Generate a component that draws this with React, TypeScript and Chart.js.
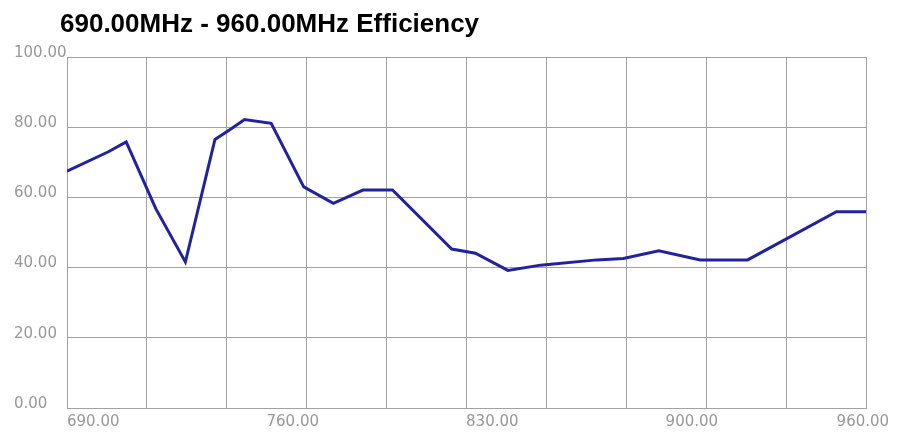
import React, { useEffect, useRef } from "react";
import { Chart, registerables } from "chart.js";

Chart.register(...registerables);

const titleText = "690.00MHz - 960.00MHz Efficiency";
const frequencies = [690, 704, 710, 720, 730, 740, 745, 750, 759, 770, 780, 790, 800, 820, 828, 839, 850, 869, 878, 890, 904, 920, 950, 960];
const efficiency = [67.5, 73.0, 75.8, 56.8, 41.6, 76.5, 79.3, 82.2, 81.1, 63.0, 58.3, 62.1, 62.1, 45.3, 44.1, 39.2, 40.7, 42.2, 42.6, 44.8, 42.2, 42.2, 55.9, 55.9];
const xTickLabels = [690, 760, 830, 900, 960];
const xGridValues = [690, 717, 744, 771, 798, 825, 852, 879, 906, 933, 960];
const yTickValues = [0, 20, 40, 60, 80, 100];

export default function App() {
  const canvasRef = useRef<HTMLCanvasElement | null>(null);

  useEffect(() => {
    const canvas = canvasRef.current;
    if (!canvas) return;
    const gridColor = "#a2a2a2";
    const labelColor = "#989898";
    const labelFont = { family: "'DejaVu Sans', sans-serif", size: 15 };

    const titleShift = {
      id: "titleShift",
      afterLayout(chart: any) {
        if (chart.titleBlock) {
          chart.titleBlock.left = 60;
        }
      },
    };

    const chart = new Chart(canvas, {
      type: "line",
      data: {
        datasets: [
          {
            label: "Efficiency",
            data: frequencies.map((f, i) => ({ x: f, y: efficiency[i] })),
            borderColor: "#22229e",
            backgroundColor: "#22229e",
            borderWidth: 3,
            pointRadius: 0,
            tension: 0,
            fill: false,
            xAxisID: "x",
            yAxisID: "y",
          },
        ],
      },
      options: {
        animation: false,
        responsive: true,
        maintainAspectRatio: false,
        layout: { padding: { left: 14, right: 39, top: 0, bottom: 0 } },
        plugins: {
          legend: { display: false },
          tooltip: { enabled: false },
          title: {
            display: true,
            text: titleText,
            align: "start",
            color: "#000000",
            font: { family: "'Liberation Sans', Arial, sans-serif", size: 26, weight: "bold", lineHeight: 1.2 },
            padding: { top: 9, bottom: 16.8 },
          },
        },
        scales: {
          x: {
            type: "linear",
            position: "bottom",
            min: 690,
            max: 960,
            afterBuildTicks: (scale: any) => {
              scale.ticks = xGridValues.map((v) => ({ value: v }));
            },
            afterFit: (scale: any) => {
              scale.height = 0;
            },
            ticks: { display: false },
            grid: { color: gridColor, lineWidth: 1, drawTicks: false },
            border: { color: gridColor, width: 1 },
          },
          x2: {
            type: "linear",
            position: "bottom",
            min: 680.8,
            max: 961.1,
            afterBuildTicks: (scale: any) => {
              scale.ticks = xTickLabels.map((v) => ({ value: v }));
            },
            afterFit: (scale: any) => {
              scale.height = 24;
            },
            ticks: {
              color: labelColor,
              font: labelFont,
              padding: 5,
              maxRotation: 0,
              autoSkip: false,
              callback: (v: any) => Number(v).toFixed(2),
            },
            grid: { display: false, drawTicks: false },
            border: { display: false },
          },
          y: {
            type: "linear",
            position: "left",
            min: 0,
            max: 100,
            afterBuildTicks: (scale: any) => {
              scale.ticks = yTickValues.map((v) => ({ value: v }));
            },
            afterFit: (scale: any) => {
              scale.width = 53;
            },
            ticks: {
              color: labelColor,
              font: labelFont,
              crossAlign: "far",
              labelOffset: -4,
              padding: 3,
              callback: (v: any) => Number(v).toFixed(2),
            },
            grid: { color: gridColor, lineWidth: 1, drawTicks: false },
            border: { color: gridColor, width: 1 },
          },
        },
      },
      plugins: [titleShift],
    });

    return () => {
      chart.destroy();
    };
  }, []);

  return (
    <div style={{ position: "fixed", left: 0, top: 0, width: 905, height: 432, background: "#ffffff" }}>
      <canvas ref={canvasRef} />
    </div>
  );
}
